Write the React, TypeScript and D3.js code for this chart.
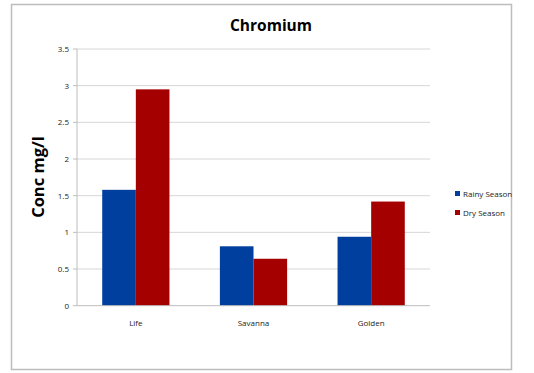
import React from "react";
import * as d3 from "d3";

const categories = ["Life", "Savanna", "Golden"];
const seriesNames = ["Rainy Season", "Dry Season"];
const rainy = [1.58, 0.81, 0.94];
const dry = [2.95, 0.64, 1.42];
const yTicks = [0, 0.5, 1, 1.5, 2, 2.5, 3, 3.5];
const colors = ["#003f9e", "#a50000"];

const W = 534, H = 373;
const plot = { left: 77, right: 430, top: 49, bottom: 305.7 };
const FONT = "'Open Sans', 'Liberation Sans', Arial, sans-serif";

export default function App() {
  const x0 = d3.scaleBand<string>().domain(categories).range([plot.left, plot.right]);
  const barW = x0.bandwidth() / 3.5;
  const y = d3.scaleLinear().domain([0, 3.5]).range([plot.bottom, plot.top]);
  const series = [rainy, dry];
  return (
    <svg width={W} height={H} style={{ position: "absolute", left: 0, top: 0 }}>
      <rect x={0} y={0} width={W} height={H} fill="#fff" />
      <rect x={11.5} y={4.5} width={500} height={365} fill="#fff" stroke="#bdbdbd" strokeWidth={1.5} />
      <text x={271} y={31} textAnchor="middle" fontFamily={FONT} fontWeight="bold" fontSize={15.5}>Chromium</text>
      {yTicks.map((t) => (
        <g key={t}>
          {t > 0 && <line x1={plot.left} x2={plot.right} y1={y(t)} y2={y(t)} stroke="#d6d6d6" strokeWidth={1} />}
          <line x1={plot.left - 4} x2={plot.left} y1={y(t)} y2={y(t)} stroke="#bdbdbd" />
          <text x={plot.left - 8} y={y(t) + 3} textAnchor="end" fontFamily={FONT} fontSize={8} fill="#222">{t}</text>
        </g>
      ))}
      {categories.map((c, i) => {
        const center = (x0(c) as number) + x0.bandwidth() / 2;
        return (
          <g key={c}>
            {series.map((s, j) => (
              <rect key={j} x={center - barW + j * barW} y={y(s[i])} width={barW} height={y(0) - y(s[i])} fill={colors[j]} />
            ))}
            <text x={center} y={plot.bottom + 20} textAnchor="middle" fontFamily={FONT} fontSize={8} fill="#222">{c}</text>
          </g>
        );
      })}
      <line x1={plot.left} x2={plot.left} y1={plot.top} y2={plot.bottom} stroke="#bdbdbd" />
      <line x1={plot.left} x2={plot.right} y1={plot.bottom} y2={plot.bottom} stroke="#bdbdbd" />
      <text transform={`translate(44,177) rotate(-90)`} textAnchor="middle" fontFamily={FONT} fontWeight="bold" fontSize={16.5}>Conc  mg/l</text>
      {seriesNames.map((n, j) => (
        <g key={n}>
          <rect x={455} y={191 + j * 19} width={5} height={5} fill={colors[j]} />
          <text x={463} y={197 + j * 19} fontFamily={FONT} fontSize={8} fill="#222">{n}</text>
        </g>
      ))}
    </svg>
  );
}
